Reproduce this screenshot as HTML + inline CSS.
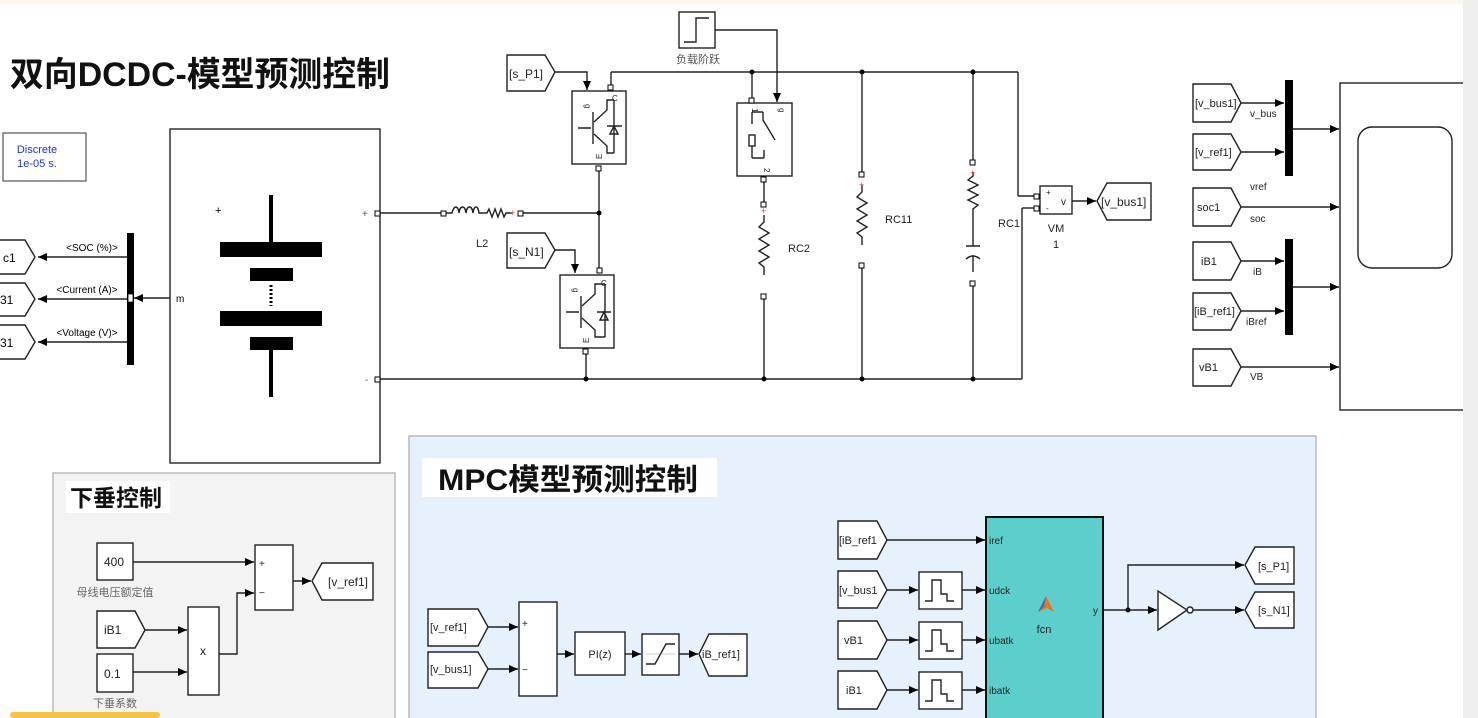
<!DOCTYPE html>
<html><head><meta charset="utf-8"><style>
html,body{margin:0;padding:0;background:#fff;}
svg{display:block;}
text{font-family:"Liberation Sans","Noto Sans CJK SC",sans-serif;}
</style></head><body>
<svg width="1478" height="718" viewBox="0 0 1478 718" xmlns="http://www.w3.org/2000/svg">
<defs>
<marker id="a" markerWidth="10" markerHeight="10" refX="9" refY="5" orient="auto" markerUnits="userSpaceOnUse"><path d="M0,1 L9,5 L0,9 z" fill="#000"/></marker>
</defs>
<rect x="0" y="0" width="1478" height="718" fill="#fff"/>
<rect x="0" y="0" width="1478" height="4" fill="#fbf7ee"/>

<!-- Title -->
<text x="10" y="86" font-size="34" font-weight="bold" fill="#111" textLength="380" lengthAdjust="spacingAndGlyphs">双向DCDC-模型预测控制</text>

<!-- Discrete -->
<rect x="3" y="133" width="83" height="48" fill="#fff" stroke="#555" stroke-width="1.2"/>
<text x="37" y="153" font-size="11" fill="#2233dd" text-anchor="middle">Discrete</text>
<text x="37" y="167" font-size="11" fill="#2233dd" text-anchor="middle">1e-05 s.</text>

<g fill="none" stroke="#222" stroke-width="1.4">
<rect x="170" y="129" width="210" height="334" fill="#fff"/>
<line x1="170" y1="298" x2="134" y2="298" marker-end="url(#a)"/>
<line x1="127" y1="257" x2="38" y2="257" marker-end="url(#a)"/>
<line x1="127" y1="299" x2="38" y2="299" marker-end="url(#a)"/>
<line x1="127" y1="342" x2="38" y2="342" marker-end="url(#a)"/>
<polygon points="-5,240 25,240 35,257 25,274 -5,274" fill="#fff"/>
<polygon points="-5,283 25,283 35,299 25,316 -5,316" fill="#fff"/>
<polygon points="-5,325 25,325 35,342 25,359 -5,359" fill="#fff"/>
</g>
<rect x="127" y="233" width="7" height="132" fill="#000"/>
<rect x="128" y="294" width="5" height="8" fill="#fff" stroke="#000" stroke-width="0.8"/>
<text x="3" y="262" font-size="12">c1</text>
<text x="0" y="304" font-size="12">31</text>
<text x="0" y="347" font-size="12">31</text>
<text x="92" y="251" font-size="10" text-anchor="middle">&lt;SOC (%)&gt;</text>
<text x="87" y="293" font-size="10" text-anchor="middle">&lt;Current (A)&gt;</text>
<text x="87" y="336" font-size="10" text-anchor="middle">&lt;Voltage (V)&gt;</text>
<text x="176" y="302" font-size="10">m</text>
<rect x="269" y="195" width="4" height="48" fill="#000"/>
<rect x="220" y="242" width="102" height="15" fill="#000"/>
<rect x="250" y="268" width="43" height="13" fill="#000"/>
<line x1="271" y1="285" x2="271" y2="306" stroke="#000" stroke-width="3" stroke-dasharray="2,2"/>
<rect x="220" y="311" width="102" height="15" fill="#000"/>
<rect x="250" y="337" width="43" height="13" fill="#000"/>
<rect x="269" y="350" width="4" height="47" fill="#000"/>
<text x="215" y="214" font-size="11">+</text>
<text x="362" y="217" font-size="10" fill="#555">+</text>
<text x="365" y="383" font-size="10" fill="#555">-</text>

<g fill="none" stroke="#222" stroke-width="1.4">
<line x1="380" y1="213" x2="442" y2="213"/>
<path d="M446,213 h6 c2,-8 6,-8 7,0 c1,-8 6,-8 7,0 c1,-8 6,-8 7,0 c1,-8 5,-8 6,0 h8 l2,-4 l3,8 l3,-8 l3,8 l3,-8 l3,8 l2,-4 h6"/>
<line x1="522" y1="213" x2="599" y2="213"/>
<line x1="380" y1="379" x2="1022" y2="379"/>
<line x1="1022" y1="379" x2="1022" y2="208"/>
<line x1="1022" y1="208" x2="1036" y2="208"/>
<line x1="611" y1="88" x2="611" y2="72"/>
<line x1="611" y1="72" x2="1018" y2="72"/>
<line x1="1018" y1="72" x2="1018" y2="196"/>
<line x1="1018" y1="196" x2="1036" y2="196"/>
<line x1="599" y1="168" x2="599" y2="272"/>
<line x1="586" y1="351" x2="586" y2="379"/>
<polygon points="507,55 545,55 555,72 545,91 507,91" fill="#fff"/>
<path d="M555,72 H587 V90" marker-end="url(#a)"/>
<rect x="572" y="91" width="54" height="73" fill="#fff"/>
<path d="M578,128 H591 M593,112 V144 M594,122 L607,110 V100 H614 M594,134 L607,146 V153 H614 M614,100 V153 M607,126 H622 M610,134 L614,126 L618,134 Z"/>
<polygon points="507,233 545,233 555,250 545,268 507,268" fill="#fff"/>
<path d="M555,250 H575 V273" marker-end="url(#a)"/>
<rect x="560" y="275" width="54" height="73" fill="#fff"/>
<path d="M566,312 H579 M581,296 V328 M582,306 L595,294 V284 H605 M582,318 L595,330 V337 H605 M605,284 V337 M597,312 H611 M600,320 L604,312 L608,320 Z"/>
<rect x="679" y="12" width="36" height="36" fill="#fff"/>
<path d="M684,42 H696 V18 H709"/>
<path d="M715,30 H777 V102" marker-end="url(#a)"/>
<rect x="737" y="103" width="55" height="73" fill="#fff"/>
<path d="M752,72 V100"/>
<path d="M752,112 V124 M752,146 V158 M752,112 H763 M752,158 H764 M763,112 V120 L775,140 M764,158 V150"/>
<rect x="749" y="135" width="6" height="11" fill="#fff"/>
<path d="M764,180 V204 M764,296 V379"/>
<path d="M764,215 V222 l-5,5 l10,6 l-10,6 l10,6 l-10,6 l10,6 l-10,6 l5,4 V275"/>
<path d="M862,72 V174 M862,265 V379"/>
<path d="M862,185 V192 l-5,5 l10,6 l-10,6 l10,6 l-10,6 l10,6 l-10,6 l5,4 V245"/>
<path d="M973,72 V162 M973,283 V379"/>
<path d="M973,172 V176 l-5,4 l10,5 l-10,5 l10,5 l-10,5 l10,5 l-5,4 V246 M966,246 H980 M966,259 Q973,253 980,259 M973,255 V272"/>
<rect x="1040" y="186" width="32" height="28" fill="#fff"/>
<line x1="1072" y1="201" x2="1096" y2="201" marker-end="url(#a)"/>
<polygon points="1097,201 1107,183 1151,183 1151,220 1107,220" fill="#fff"/>
</g>
<g fill="#fff" stroke="#000" stroke-width="1">
<rect x="608" y="85" width="5" height="5"/><rect x="596" y="166" width="5" height="5"/>
<rect x="597" y="268" width="5" height="5"/><rect x="583" y="349" width="5" height="5"/>
<rect x="749" y="98" width="5" height="5"/><rect x="761" y="177" width="5" height="5"/>
<rect x="761" y="202" width="5" height="5"/><rect x="761" y="294" width="5" height="5"/>
<rect x="859" y="172" width="5" height="5"/><rect x="859" y="263" width="5" height="5"/>
<rect x="970" y="160" width="5" height="5"/><rect x="970" y="281" width="5" height="5"/>
<rect x="1034" y="194" width="5" height="5"/><rect x="1034" y="206" width="5" height="5"/>
<rect x="375" y="211" width="5" height="5"/><rect x="375" y="377" width="5" height="5"/>
<rect x="441" y="211" width="5" height="5"/><rect x="518" y="211" width="5" height="5"/>
</g>
<g fill="#000">
<circle cx="599" cy="213" r="2.5"/><circle cx="586" cy="379" r="2.5"/>
<circle cx="752" cy="72" r="2.5"/><circle cx="862" cy="72" r="2.5"/><circle cx="973" cy="72" r="2.5"/>
<circle cx="764" cy="379" r="2.5"/><circle cx="862" cy="379" r="2.5"/><circle cx="973" cy="379" r="2.5"/>
</g>
<g fill="#e33" font-size="9"><text x="510" y="216">+</text><text x="761" y="214">+</text><text x="859" y="188">+</text><text x="970" y="176">+</text></g>
<g font-size="8" fill="#222">
<text x="585" y="104" transform="rotate(90 585 104)">g</text>
<text x="612" y="101">C</text>
<text x="597" y="158" transform="rotate(-90 600 156)">E</text>
<text x="573" y="288" transform="rotate(90 573 288)">g</text>
<text x="601" y="286">C</text>
<text x="584" y="342" transform="rotate(-90 587 340)">E</text>
<text x="752" y="108" transform="rotate(90 752 108)">1</text>
<text x="779" y="108" transform="rotate(90 779 108)">g</text>
<text x="764" y="168" transform="rotate(90 764 168)">2</text>
</g>
<g font-size="11" fill="#222">
<text x="698" y="63" text-anchor="middle" fill="#555">负载阶跃</text>
<text x="476" y="247">L2</text>
<text x="788" y="252">RC2</text>
<text x="885" y="223">RC11</text>
<text x="998" y="227">RC1</text>
<text x="1046" y="195" font-size="8">+</text><text x="1046" y="211" font-size="8">-</text>
<text x="1061" y="205" font-size="10">v</text>
<text x="1056" y="232" text-anchor="middle">VM</text>
<text x="1056" y="248" text-anchor="middle">1</text>
<text x="1101" y="206" font-size="12">[v_bus1]</text>
<text x="509" y="78" font-size="12">[s_P1]</text>
<text x="509" y="256" font-size="12">[s_N1]</text>
</g>

<g fill="none" stroke="#222" stroke-width="1.4">
<polygon points="1193,84 1231,84 1241,103 1231,122 1193,122" fill="#fff"/>
<polygon points="1193,134 1231,134 1241,152 1231,170 1193,170" fill="#fff"/>
<polygon points="1193,188 1231,188 1241,207 1231,226 1193,226" fill="#fff"/>
<polygon points="1193,242 1231,242 1241,261 1231,280 1193,280" fill="#fff"/>
<polygon points="1193,293 1231,293 1241,311 1231,330 1193,330" fill="#fff"/>
<polygon points="1193,349 1231,349 1241,367 1231,386 1193,386" fill="#fff"/>
<line x1="1241" y1="103" x2="1284" y2="103" marker-end="url(#a)"/>
<line x1="1241" y1="152" x2="1284" y2="152" marker-end="url(#a)"/>
<line x1="1293" y1="129" x2="1339" y2="129" marker-end="url(#a)"/>
<line x1="1241" y1="207" x2="1339" y2="207" marker-end="url(#a)"/>
<line x1="1241" y1="261" x2="1284" y2="261" marker-end="url(#a)"/>
<line x1="1241" y1="311" x2="1284" y2="311" marker-end="url(#a)"/>
<line x1="1293" y1="287" x2="1339" y2="287" marker-end="url(#a)"/>
<line x1="1241" y1="367" x2="1339" y2="367" marker-end="url(#a)"/>
<rect x="1340" y="83" width="130" height="327" fill="#fff"/>
<rect x="1358" y="127" width="94" height="141" rx="14"/>
</g>
<rect x="1463" y="0" width="15" height="718" fill="#efefef"/>
<rect x="1285" y="80" width="8" height="96" fill="#000"/>
<rect x="1285" y="239" width="8" height="96" fill="#000"/>
<g font-size="11" fill="#222">
<text x="1195" y="107">[v_bus1]</text>
<text x="1195" y="156">[v_ref1]</text>
<text x="1197" y="211">soc1</text>
<text x="1201" y="265">iB1</text>
<text x="1194" y="315">[iB_ref1]</text>
<text x="1199" y="371">vB1</text>
<text x="1250" y="117" font-size="10">v_bus</text>
<text x="1250" y="190" font-size="10">vref</text>
<text x="1250" y="222" font-size="10">soc</text>
<text x="1253" y="275" font-size="10">iB</text>
<text x="1246" y="325" font-size="10">iBref</text>
<text x="1250" y="380" font-size="10">VB</text>
</g>

<rect x="53" y="473" width="342" height="250" fill="#f3f3f3" stroke="#bbb" stroke-width="1.5"/>
<rect x="66" y="481" width="104" height="32" fill="#fff"/>
<text x="70" y="506" font-size="23" font-weight="bold" fill="#111">下垂控制</text>
<g fill="none" stroke="#222" stroke-width="1.4">
<rect x="97" y="543" width="36" height="37" fill="#fff"/>
<rect x="255" y="545" width="38" height="65" fill="#fff"/>
<line x1="133" y1="562" x2="254" y2="562" marker-end="url(#a)"/>
<line x1="293" y1="581" x2="311" y2="581" marker-end="url(#a)"/>
<polygon points="312,581 322,563 373,563 373,600 322,600" fill="#fff"/>
<polygon points="97,611 135,611 145,630 135,648 97,648" fill="#fff"/>
<rect x="97" y="654" width="36" height="38" fill="#fff"/>
<rect x="188" y="607" width="31" height="88" fill="#fff"/>
<line x1="145" y1="630" x2="187" y2="630" marker-end="url(#a)"/>
<line x1="133" y1="672" x2="187" y2="672" marker-end="url(#a)"/>
<path d="M219,654 H237 V593 H254" marker-end="url(#a)"/>
</g>
<g font-size="12" fill="#222">
<text x="104" y="566">400</text>
<text x="104" y="678">0.1</text>
<text x="104" y="634">iB1</text>
<text x="200" y="655">x</text>
<text x="259" y="567" font-size="10">+</text>
<text x="259" y="596" font-size="10">−</text>
<text x="328" y="586">[v_ref1]</text>
<text x="115" y="596" font-size="11" fill="#666" text-anchor="middle">母线电压额定值</text>
<text x="115" y="707" font-size="11" fill="#666" text-anchor="middle">下垂系数</text>
</g>
<rect x="10" y="712" width="150" height="6" rx="3" fill="#f4c542"/>

<rect x="409" y="436" width="907" height="290" fill="#e6f1fb" stroke="#bbb" stroke-width="1.5"/>
<rect x="422" y="458" width="295" height="39" fill="#fff"/>
<text x="438" y="490" font-size="30" font-weight="bold" fill="#111" textLength="260" lengthAdjust="spacingAndGlyphs">MPC模型预测控制</text>
<g fill="none" stroke="#222" stroke-width="1.4">
<polygon points="428,609 478,609 488,627 478,646 428,646" fill="#fff"/>
<polygon points="428,652 478,652 488,669 478,688 428,688" fill="#fff"/>
<rect x="519" y="602" width="38" height="94" fill="#fff"/>
<line x1="488" y1="627" x2="518" y2="627" marker-end="url(#a)"/>
<line x1="488" y1="669" x2="518" y2="669" marker-end="url(#a)"/>
<line x1="557" y1="654" x2="574" y2="654" marker-end="url(#a)"/>
<rect x="575" y="632" width="50" height="43" fill="#fff"/>
<line x1="625" y1="654" x2="641" y2="654" marker-end="url(#a)"/>
<rect x="642" y="634" width="37" height="41" fill="#fff"/>
<path d="M646,664 H655 L666,644 H675" /><line x1="646" y1="654" x2="675" y2="654" stroke="#999" stroke-width="0.6"/>
<line x1="679" y1="654" x2="698" y2="654" marker-end="url(#a)"/>
<polygon points="699,654 709,634 747,634 747,676 709,676" fill="#fff"/>
<polygon points="838,521 877,521 887,540 877,559 838,559" fill="#fff"/>
<polygon points="838,571 877,571 887,590 877,608 838,608" fill="#fff"/>
<polygon points="838,621 877,621 887,640 877,659 838,659" fill="#fff"/>
<polygon points="838,671 877,671 887,690 877,709 838,709" fill="#fff"/>
<line x1="887" y1="540" x2="985" y2="540" marker-end="url(#a)"/>
<line x1="887" y1="590" x2="918" y2="590" marker-end="url(#a)"/>
<line x1="887" y1="640" x2="918" y2="640" marker-end="url(#a)"/>
<line x1="887" y1="690" x2="918" y2="690" marker-end="url(#a)"/>
<rect x="919" y="572" width="43" height="37" fill="#fff"/>
<rect x="919" y="622" width="43" height="37" fill="#fff"/>
<rect x="919" y="672" width="43" height="37" fill="#fff"/>
<path d="M925,601 H932 V580 H941 V594 H947 V601 H954"/>
<path d="M925,651 H932 V630 H941 V644 H947 V651 H954"/>
<path d="M925,701 H932 V680 H941 V694 H947 V701 H954"/>
<line x1="962" y1="590" x2="985" y2="590" marker-end="url(#a)"/>
<line x1="962" y1="640" x2="985" y2="640" marker-end="url(#a)"/>
<line x1="962" y1="690" x2="985" y2="690" marker-end="url(#a)"/>
<rect x="986" y="517" width="117" height="205" fill="#5ccfcc" stroke="#111" stroke-width="2"/>
<line x1="1103" y1="610" x2="1157" y2="610" marker-end="url(#a)"/>
<path d="M1128,610 V565 H1244" marker-end="url(#a)"/>
<polygon points="1158,591 1158,630 1187,610" fill="#fff"/>
<circle cx="1190" cy="610" r="3" fill="#fff"/>
<line x1="1193" y1="610" x2="1244" y2="610" marker-end="url(#a)"/>
<polygon points="1245,565 1255,547 1294,547 1294,584 1255,584" fill="#fff"/>
<polygon points="1245,610 1255,592 1294,592 1294,628 1255,628" fill="#fff"/>
</g>
<circle cx="1128" cy="610" r="2.5" fill="#000"/>
<path d="M1038,612 L1046,596 L1054,612 L1047,608 Z" fill="#e8742a"/>
<path d="M1038,612 L1046,596 L1044,607 Z" fill="#3a6fb0"/>
<g font-size="11" fill="#222">
<text x="430" y="631">[v_ref1]</text>
<text x="430" y="673">[v_bus1]</text>
<text x="522" y="627" font-size="10">+</text>
<text x="522" y="673" font-size="10">−</text>
<text x="600" y="658" text-anchor="middle">PI(z)</text>
<text x="702" y="658">iB_ref1]</text>
<text x="839" y="544">[iB_ref1</text>
<text x="839" y="594">[v_bus1</text>
<text x="844" y="644">vB1</text>
<text x="846" y="694">iB1</text>
<text x="989" y="544" font-size="10">iref</text>
<text x="989" y="594" font-size="10">udck</text>
<text x="989" y="644" font-size="10">ubatk</text>
<text x="989" y="694" font-size="10">ibatk</text>
<text x="1044" y="633" text-anchor="middle" font-size="11">fcn</text>
<text x="1093" y="614" font-size="10">y</text>
<text x="1258" y="570">[s_P1]</text>
<text x="1258" y="614">[s_N1]</text>
</g>
</svg>
</body></html>
